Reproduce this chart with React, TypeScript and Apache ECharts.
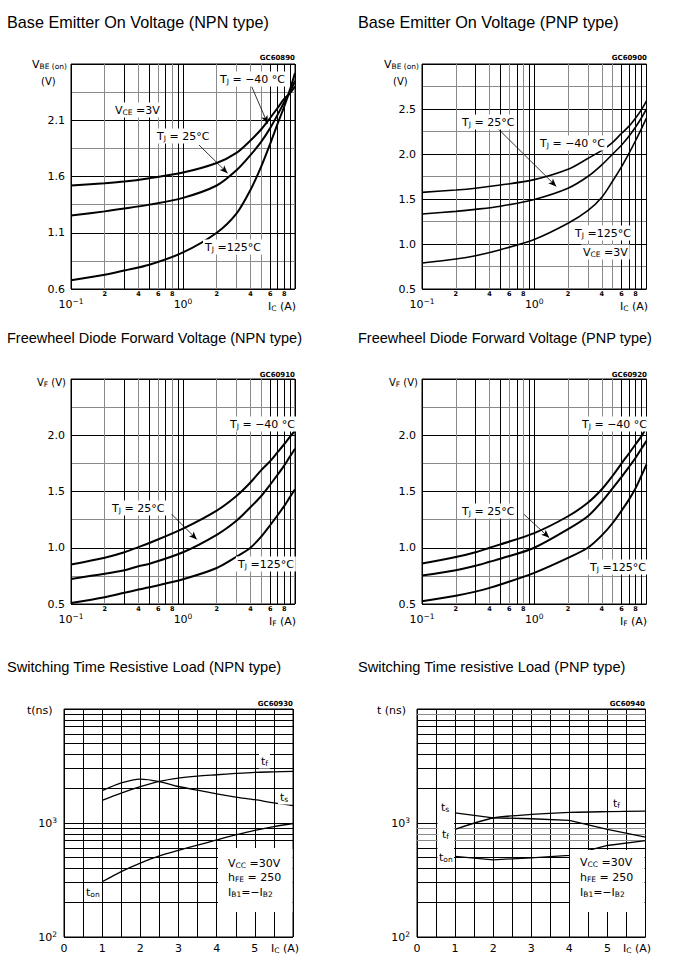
import React, { useEffect, useRef } from "react";
import * as echarts from "echarts";

const FONT = "'DejaVu Sans', 'Liberation Sans', sans-serif";
const TFONT = "'Liberation Sans', Arial, sans-serif";

// ---------------- Data ----------------
// Base emitter on voltage, NPN (V) vs Ic (A)
const IC_VBE = [0.1, 0.2, 0.3, 0.5, 1, 2, 3, 4, 5, 6, 7, 8, 9, 10];
const NPN_VBE_M40 = [1.52, 1.54, 1.555, 1.585, 1.635, 1.72, 1.81, 1.92, 2.02, 2.12, 2.21, 2.29, 2.34, 2.4];
const NPN_VBE_25 = [1.254, 1.29, 1.315, 1.35, 1.41, 1.52, 1.655, 1.79, 1.91, 2.03, 2.15, 2.26, 2.35, 2.45];
const NPN_VBE_125 = [0.677, 0.727, 0.765, 0.816, 0.925, 1.1, 1.27, 1.48, 1.69, 1.89, 2.07, 2.22, 2.37, 2.52];
// Base emitter on voltage, PNP
const PNP_VBE_M40 = [1.574, 1.6, 1.62, 1.655, 1.715, 1.83, 1.95, 2.04, 2.13, 2.23, 2.31, 2.4, 2.49, 2.59];
const PNP_VBE_25 = [1.333, 1.363, 1.385, 1.42, 1.495, 1.62, 1.75, 1.88, 2.0, 2.1, 2.2, 2.3, 2.4, 2.5];
const PNP_VBE_125 = [0.789, 0.833, 0.87, 0.937, 1.05, 1.23, 1.37, 1.52, 1.7, 1.86, 2.01, 2.15, 2.28, 2.4];
// Freewheel diode forward voltage (V) vs If (A)
const IF_VF = [0.1, 0.2, 0.3, 0.4, 0.5, 1, 2, 3, 4, 5, 6, 7, 8, 9, 10];
const NPN_VF_M40 = [0.851, 0.911, 0.96, 1.006, 1.042, 1.17, 1.33, 1.46, 1.58, 1.69, 1.77, 1.85, 1.92, 1.985, 2.04];
const NPN_VF_25 = [0.723, 0.768, 0.8, 0.836, 0.857, 0.96, 1.115, 1.24, 1.36, 1.46, 1.56, 1.65, 1.73, 1.81, 1.88];
const NPN_VF_125 = [0.509, 0.56, 0.6, 0.628, 0.649, 0.72, 0.82, 0.92, 1.0, 1.1, 1.2, 1.29, 1.37, 1.45, 1.52];
const PNP_VF_M40 = [0.86, 0.917, 0.96, 1.0, 1.03, 1.13, 1.28, 1.4, 1.52, 1.64, 1.75, 1.84, 1.92, 1.99, 2.07];
const PNP_VF_25 = [0.753, 0.8, 0.84, 0.875, 0.902, 1.0, 1.165, 1.28, 1.41, 1.53, 1.63, 1.72, 1.8, 1.88, 1.95];
const PNP_VF_125 = [0.524, 0.574, 0.61, 0.643, 0.673, 0.777, 0.91, 1.0, 1.11, 1.22, 1.33, 1.43, 1.53, 1.64, 1.74];
// Switching times (ns) vs Ic (A)
const IC_SW_NPN = [1, 1.5, 2, 2.5, 3, 3.5, 4, 4.5, 5, 5.5, 6];
const NPN_TS = [1920, 2250, 2430, 2310, 2090, 1940, 1800, 1690, 1600, 1500, 1420];
const NPN_TF = [1580, 1830, 2080, 2320, 2480, 2580, 2650, 2720, 2780, 2810, 2840];
const NPN_TON = [305, 375, 445, 515, 575, 640, 710, 785, 860, 930, 990];
const IC_SW_PNP = [1, 2, 3, 4, 5, 6];
const PNP_TS = [1225, 1110, 1090, 1055, 880, 752];
const PNP_TF = [880, 1106, 1190, 1240, 1258, 1270];
const PNP_TON = [510, 475, 495, 520, 635, 700];

// Grid / tick helpers
const LOG_X_MINOR = [0.2, 0.3, 0.4, 0.5, 0.6, 0.7, 0.8, 0.9, 2, 3, 4, 5, 6, 7, 8, 9];
const LOG_X_MINOR_LABELED = [2, 4, 6, 8];
const LOG_Y_MINOR = [200, 300, 400, 500, 600, 700, 800, 900, 2000, 3000, 4000, 5000, 6000, 7000, 8000, 9000];
const V_OFFSET_NPN_VBE = 0.6;

// ---------------- Layout ----------------
const BOXES = [
  [71, 64, 224, 225],
  [422, 64, 224.5, 225],
  [71, 379, 224, 225],
  [422, 379, 224.5, 225],
  [64, 709, 229, 228],
  [417, 709, 228.5, 228],
];

const AX_RICH = {
  b: { fontSize: 11, fontFamily: FONT, color: "#000", lineHeight: 14 },
  sup: { fontSize: 7.5, fontFamily: FONT, color: "#000", verticalAlign: "top", lineHeight: 7 },
};

const GR_RICH: any = {
  t: { fontSize: 11, fontFamily: FONT, fill: "#000", lineHeight: 13 },
  a: { fontSize: 10, fontFamily: FONT, fill: "#000", lineHeight: 12 },
  s: { fontSize: 7.5, fontFamily: FONT, fill: "#000", verticalAlign: "bottom", lineHeight: 5 },
};

function minorColor(v: number) {
  const lead = v < 1 ? Math.round(v * 10) : Math.round(v);
  if (v < 1) return lead % 2 === 0 ? "#8a8a8a" : "#000";
  return lead <= 5 ? "#8a8a8a" : "#000";
}

function logX(gi: number) {
  return {
    type: "log",
    logBase: 10,
    gridIndex: gi,
    min: 0.1,
    max: 10,
    axisLine: { show: false },
    axisTick: { show: false },
    splitLine: { show: true, lineStyle: { color: "#000", width: 1 } },
    axisLabel: {
      margin: 8,
      rich: AX_RICH,
      formatter: (v: number) => {
        const e = Math.round(Math.log10(v));
        if (e >= 1) return "";
        return `{b|10}{sup|${e < 0 ? "−" : ""}${Math.abs(e)}}`;
      },
    },
  };
}

function linX(gi: number) {
  return {
    type: "value",
    gridIndex: gi,
    min: 0,
    max: 6,
    interval: 0.5,
    axisLine: { show: false },
    axisTick: { show: false },
    splitLine: { show: true, lineStyle: { color: "#000", width: 1 } },
    axisLabel: {
      margin: 6,
      fontSize: 11,
      fontFamily: FONT,
      color: "#000",
      formatter: (v: number) => (Math.abs(v - Math.round(v)) < 1e-9 && v < 5.5 ? String(Math.round(v)) : ""),
    },
  };
}

function voltY(gi: number, min: number, max: number, off: number) {
  return {
    type: "value",
    gridIndex: gi,
    min,
    max,
    interval: 0.25,
    axisLine: { show: false },
    axisTick: { show: false },
    splitLine: { show: true, lineStyle: { color: ["#000", "#8a8a8a"], width: 1 } },
    axisLabel: {
      margin: 6,
      fontSize: 11,
      fontFamily: FONT,
      color: "#000",
      formatter: (v: number) => {
        const q = Math.round((v - min) / 0.25);
        return q % 2 === 0 && v < max - 1e-9 ? (v + off).toFixed(1) : "";
      },
    },
  };
}

function logY(gi: number) {
  return {
    type: "log",
    logBase: 10,
    gridIndex: gi,
    min: 100,
    max: 10000,
    axisLine: { show: false },
    axisTick: { show: false },
    splitLine: { show: true, lineStyle: { color: "#000", width: 1 } },
    axisLabel: {
      margin: 7,
      rich: AX_RICH,
      formatter: (v: number) => {
        const e = Math.round(Math.log10(v));
        return e < 4 ? `{b|10}{sup|${e}}` : "";
      },
    },
  };
}

function minorXSeries(gi: number) {
  return {
    type: "line",
    xAxisIndex: gi,
    yAxisIndex: gi,
    data: [],
    silent: true,
    z: 1,
    markLine: {
      silent: true,
      z: 1,
      symbol: ["none", "none"],
      animation: false,
      data: LOG_X_MINOR.map((v) => {
        const lead = v < 1 ? Math.round(v * 10) : Math.round(v);
        return {
          xAxis: v,
          lineStyle: { color: minorColor(v), width: 1, type: "solid" },
          label: {
            show: LOG_X_MINOR_LABELED.includes(lead),
            position: "start",
            distance: 1,
            formatter: String(lead),
            fontSize: 6.5,
            fontWeight: "bold",
            fontFamily: FONT,
            color: "#000",
          },
        };
      }),
    },
  };
}

function minorYSeries(gi: number, grayMid: boolean) {
  return {
    type: "line",
    xAxisIndex: gi,
    yAxisIndex: gi,
    data: [],
    silent: true,
    z: 1,
    markLine: {
      silent: true,
      z: 1,
      symbol: ["none", "none"],
      animation: false,
      label: { show: false },
      data: LOG_Y_MINOR.map((v) => ({
        yAxis: v,
        lineStyle: {
          color: grayMid && (v === 700 || v === 800 || v === 900 || v === 9000) ? "#8a8a8a" : "#000",
          width: 1,
          type: "solid",
        },
      })),
    },
  };
}

function curve(gi: number, xs: number[], ys: number[], off: number, width: number, smooth: number | boolean, arrows?: number[][][]) {
  const s: any = {
    type: "line",
    xAxisIndex: gi,
    yAxisIndex: gi,
    data: xs.map((x, k) => [x, ys[k] - off]),
    showSymbol: false,
    symbol: "none",
    smooth,
    silent: true,
    z: 3,
    lineStyle: { color: "#000", width },
  };
  if (arrows) {
    s.markLine = {
      silent: true,
      animation: false,
      symbol: ["none", "arrow"],
      symbolSize: [5, 8],
      label: { show: false },
      lineStyle: { color: "#000", width: 0.8, type: "solid" },
      data: arrows.map((a) => [{ coord: [a[0][0], a[0][1] - off] }, { coord: [a[1][0], a[1][1] - off] }]),
    };
  }
  return s;
}

// annotation helpers
function txt(x: number, y: number, text: string, extra: any = {}) {
  return {
    type: "text",
    x,
    y,
    z: 100,
    silent: true,
    style: {
      text,
      rich: GR_RICH,
      fill: "#000",
      font: `11px ${FONT}`,
      verticalAlign: "middle",
      align: extra.align || "left",
      backgroundColor: extra.bg === false ? undefined : "#fff",
      padding: extra.pad !== undefined ? extra.pad : [1, 2, 1, 2],
    },
  };
}
function whiteRect(x: number, y: number, w: number, h: number) {
  return { type: "rect", z: 50, silent: true, shape: { x, y, width: w, height: h }, style: { fill: "#fff" } };
}
function title(x: number, y: number, text: string, size: number) {
  return {
    type: "text",
    x,
    y,
    z: 100,
    silent: true,
    style: { text, fill: "#000", font: `${size}px ${TFONT}`, verticalAlign: "middle", align: "left" },
  };
}
function code(xRight: number, y: number, text: string) {
  return {
    type: "text",
    x: xRight,
    y,
    z: 100,
    silent: true,
    style: { text, fill: "#000", font: `bold 7px ${FONT}`, verticalAlign: "middle", align: "right" },
  };
}

const TJ_M40 = "{t|T}{s|J}{t| = −40 °C}";
const TJ_25 = "{t|T}{s|J}{t| = 25°C}";
const TJ_125 = "{t|T}{s|J}{t| =125°C}";
const VCE = "{t|V}{s|CE}{t| =3V}";

function buildOption() {
  const grid = BOXES.map((b) => ({
    left: b[0],
    top: b[1],
    width: b[2],
    height: b[3],
    show: true,
    borderColor: "#000",
    borderWidth: 1,
    backgroundColor: "#fff",
    containLabel: false,
  }));
  const xAxis = [logX(0), logX(1), logX(2), logX(3), linX(4), linX(5)];
  const yAxis = [
    voltY(0, 0, 2, V_OFFSET_NPN_VBE),
    voltY(1, 0.5, 3.0, 0),
    voltY(2, 0.5, 2.5, 0),
    voltY(3, 0.5, 2.5, 0),
    logY(4),
    logY(5),
  ];
  const o = V_OFFSET_NPN_VBE;
  const series: any[] = [
    minorXSeries(0),
    minorXSeries(1),
    minorXSeries(2),
    minorXSeries(3),
    minorYSeries(4, false),
    minorYSeries(5, true),
    curve(0, IC_VBE, NPN_VBE_M40, o, 2, 0.3, [
      [[4.1, 2.4], [5.7, 2.07]],
      [[1.39, 1.88], [2.5, 1.63]],
    ]),
    curve(0, IC_VBE, NPN_VBE_25, o, 2, 0.3),
    curve(0, IC_VBE, NPN_VBE_125, o, 2, 0.3),
    curve(1, IC_VBE, PNP_VBE_M40, 0, 1.6, 0.3, [[[0.468, 2.29], [1.57, 1.64]]]),
    curve(1, IC_VBE, PNP_VBE_25, 0, 1.6, 0.3),
    curve(1, IC_VBE, PNP_VBE_125, 0, 1.6, 0.3),
    curve(2, IF_VF, NPN_VF_M40, 0, 2, 0.3, [[[0.794, 1.297], [1.33, 1.074]]]),
    curve(2, IF_VF, NPN_VF_25, 0, 2, 0.3),
    curve(2, IF_VF, NPN_VF_125, 0, 2, 0.3),
    curve(3, IF_VF, PNP_VF_M40, 0, 2, 0.3, [[[0.81, 1.297], [1.36, 1.089]]]),
    curve(3, IF_VF, PNP_VF_25, 0, 2, 0.3),
    curve(3, IF_VF, PNP_VF_125, 0, 2, 0.3),
    curve(4, IC_SW_NPN, NPN_TS, 0, 1.3, 0.3),
    curve(4, IC_SW_NPN, NPN_TF, 0, 1.3, 0.3),
    curve(4, IC_SW_NPN, NPN_TON, 0, 1.3, 0.3),
    curve(5, IC_SW_PNP, PNP_TS, 0, 1.3, false),
    curve(5, IC_SW_PNP, PNP_TF, 0, 1.3, 0.25),
    curve(5, IC_SW_PNP, PNP_TON, 0, 1.3, false),
  ];

  const graphic: any[] = [
    title(7, 22, "Base Emitter On Voltage (NPN type)", 16.2),
    title(358, 22, "Base Emitter On Voltage (PNP type)", 16.2),
    title(7, 338, "Freewheel Diode Forward Voltage (NPN type)", 14.5),
    title(358, 338, "Freewheel Diode Forward Voltage (PNP type)", 14.5),
    title(7, 667, "Switching Time Resistive Load (NPN type)", 14.6),
    title(358, 667, "Switching Time resistive Load (PNP type)", 14.6),
    code(295, 58, "GC60890"),
    code(647, 58, "GC60900"),
    code(295, 375, "GC60910"),
    code(647, 375, "GC60920"),
    code(293, 704, "GC60930"),
    code(645, 704, "GC60940"),
    // axis names
    txt(32, 64, "{t|V}{s|BE (on)}", { bg: false, pad: 0 }),
    txt(41, 81, "{a|(V)}", { bg: false, pad: 0 }),
    txt(384, 64, "{t|V}{s|BE (on)}", { bg: false, pad: 0 }),
    txt(393, 81, "{a|(V)}", { bg: false, pad: 0 }),
    txt(37, 382, "{a|V}{s|F}{a| (V)}", { bg: false, pad: 0 }),
    txt(389, 382, "{a|V}{s|F}{a| (V)}", { bg: false, pad: 0 }),
    txt(27, 710, "{t|t(ns)}", { bg: false, pad: 0 }),
    txt(377, 710, "{t|t (ns)}", { bg: false, pad: 0 }),
    txt(268, 306, "{t|I}{s|C}{t| (A)}", { bg: false, pad: 0 }),
    txt(620, 306, "{t|I}{s|C}{t| (A)}", { bg: false, pad: 0 }),
    txt(269, 621, "{t|I}{s|F}{t| (A)}", { bg: false, pad: 0 }),
    txt(620, 621, "{t|I}{s|F}{t| (A)}", { bg: false, pad: 0 }),
    txt(271, 948, "{t|I}{s|C}{t| (A)}", { bg: false, pad: 0 }),
    txt(623, 948, "{t|I}{s|C}{t| (A)}", { bg: false, pad: 0 }),
    // panel 1
    txt(113, 110, VCE),
    txt(218, 79, TJ_M40),
    txt(155, 136, TJ_25),
    txt(203, 247, TJ_125),
    // panel 2
    txt(460, 122, TJ_25),
    txt(538, 143, TJ_M40),
    txt(573, 233, TJ_125),
    txt(581, 252, VCE),
    // panel 3
    txt(228, 424, TJ_M40),
    txt(110, 508, TJ_25),
    txt(236, 564, TJ_125),
    // panel 4
    txt(580, 424, TJ_M40),
    txt(460, 511, TJ_25),
    txt(588, 567, TJ_125),
    // panel 5
    whiteRect(218, 848, 74.5, 64),
    txt(259, 761, "{t|t}{s|f}"),
    txt(278, 797, "{t|t}{s|s}"),
    txt(84, 892, "{t|t}{s|on}"),
    txt(226, 863, "{t|V}{s|CC}{t| =30V}", { bg: false }),
    txt(226, 877, "{t|h}{s|FE}{t| = 250}", { bg: false }),
    txt(226, 892, "{t|I}{s|B1}{t|=−I}{s|B2}", { bg: false }),
    // panel 6
    whiteRect(570, 850, 74.5, 62),
    whiteRect(437.5, 800, 16.5, 66),
    txt(439, 807, "{t|t}{s|s}", { bg: false }),
    txt(440, 834, "{t|t}{s|f}", { bg: false }),
    txt(437, 857, "{t|t}{s|on}", { bg: false }),
    txt(611, 803, "{t|t}{s|f}"),
    txt(578, 862, "{t|V}{s|CC}{t| =30V}", { bg: false }),
    txt(578, 877, "{t|h}{s|FE}{t| = 250}", { bg: false }),
    txt(578, 892, "{t|I}{s|B1}{t|=−I}{s|B2}", { bg: false }),
  ];

  return {
    animation: false,
    backgroundColor: "#fff",
    grid,
    xAxis,
    yAxis,
    series,
    graphic,
  };
}

export default function App() {
  const ref = useRef<HTMLDivElement>(null);
  useEffect(() => {
    document.body.style.margin = "0";
    const chart = echarts.init(ref.current as HTMLDivElement, null, { renderer: "svg" });
    chart.setOption(buildOption() as any);
    return () => chart.dispose();
  }, []);
  return <div ref={ref} style={{ width: 676, height: 961 }} />;
}
